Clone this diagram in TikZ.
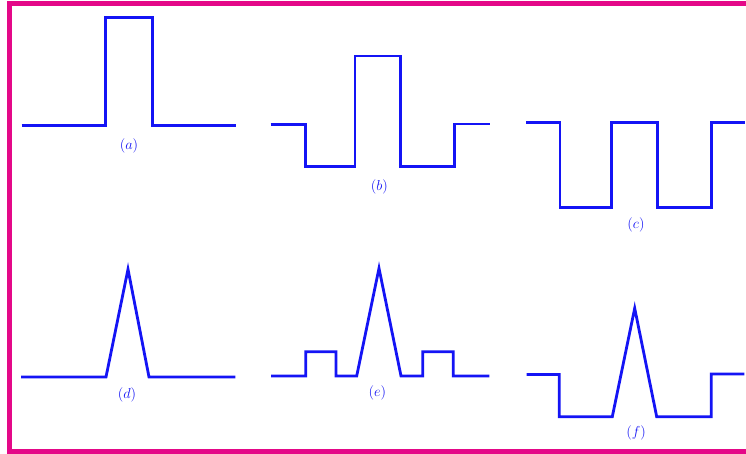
\documentclass[tikz,border=0pt]{standalone}
\begin{document}
\begin{tikzpicture}[x=1pt,y=-1pt,
  wave/.style={draw={rgb,255:red,20;green,20;blue,245}, line width=2.8pt, line join=miter},
  lbl/.style={text={rgb,255:red,20;green,20;blue,245}, font=\fontsize{14}{16}\selectfont, inner sep=0pt},
  frame/.style={draw={rgb,255:red,228;green,8;blue,136}, line width=5pt}]
\useasboundingbox (0,0) rectangle (746,454);
\fill[white] (0,0) rectangle (746,454);
\draw[frame] (760,3.5) -- (9.5,3.5) -- (9.5,451.5) -- (760,451.5);
% (a)
\draw[wave] (21.7,125.3) -- (105.7,125.3) -- (105.7,17.7) -- (152.7,17.7) -- (152.7,125.3) -- (236,125.3);
\node[lbl] (la) at (129,145.7) {$(a)$};
% (b)
\draw[wave] (270.7,124.3) -- (305.7,124.3) -- (305.7,166.7) -- (355,166.7) -- (355,56) -- (400.7,56) -- (400.7,166.7) -- (454.3,166.7) -- (454.3,124) -- (490,124);
\node[lbl] (lb) at (379.3,186.7) {$(b)$};
% (c)
\draw[wave] (526,122.7) -- (560,122.7) -- (560,207.3) -- (611.7,207.3) -- (611.7,122.7) -- (657.7,122.7) -- (657.7,207.3) -- (711.3,207.3) -- (711.3,122.7) -- (745,122.7);
\node[lbl] (lc) at (636,225) {$(c)$};
% (d)
\draw[wave] (21,377) -- (106,377) -- (128,269.3) -- (149,377) -- (235.3,377);
\node[lbl] (ld) at (127,395) {$(d)$};
% (e)
\draw[wave] (271,376) -- (305.7,376) -- (305.7,351.7) -- (336,351.7) -- (336,376) -- (356.7,376) -- (379,268.3) -- (401,376) -- (422.7,376) -- (422.7,351.7) -- (453.3,351.7) -- (453.3,376) -- (489.3,376);
\node[lbl] (le) at (377.3,393.3) {$(e)$};
% (f)
\draw[wave] (526.7,374.5) -- (559.3,374.5) -- (559.3,416.7) -- (612.3,416.7) -- (634.7,308.3) -- (656.7,416.7) -- (711.3,416.7) -- (711.3,374) -- (744.3,374);
\node[lbl] (lf) at (636,433.3) {$(f)$};
\end{tikzpicture}
\end{document}
